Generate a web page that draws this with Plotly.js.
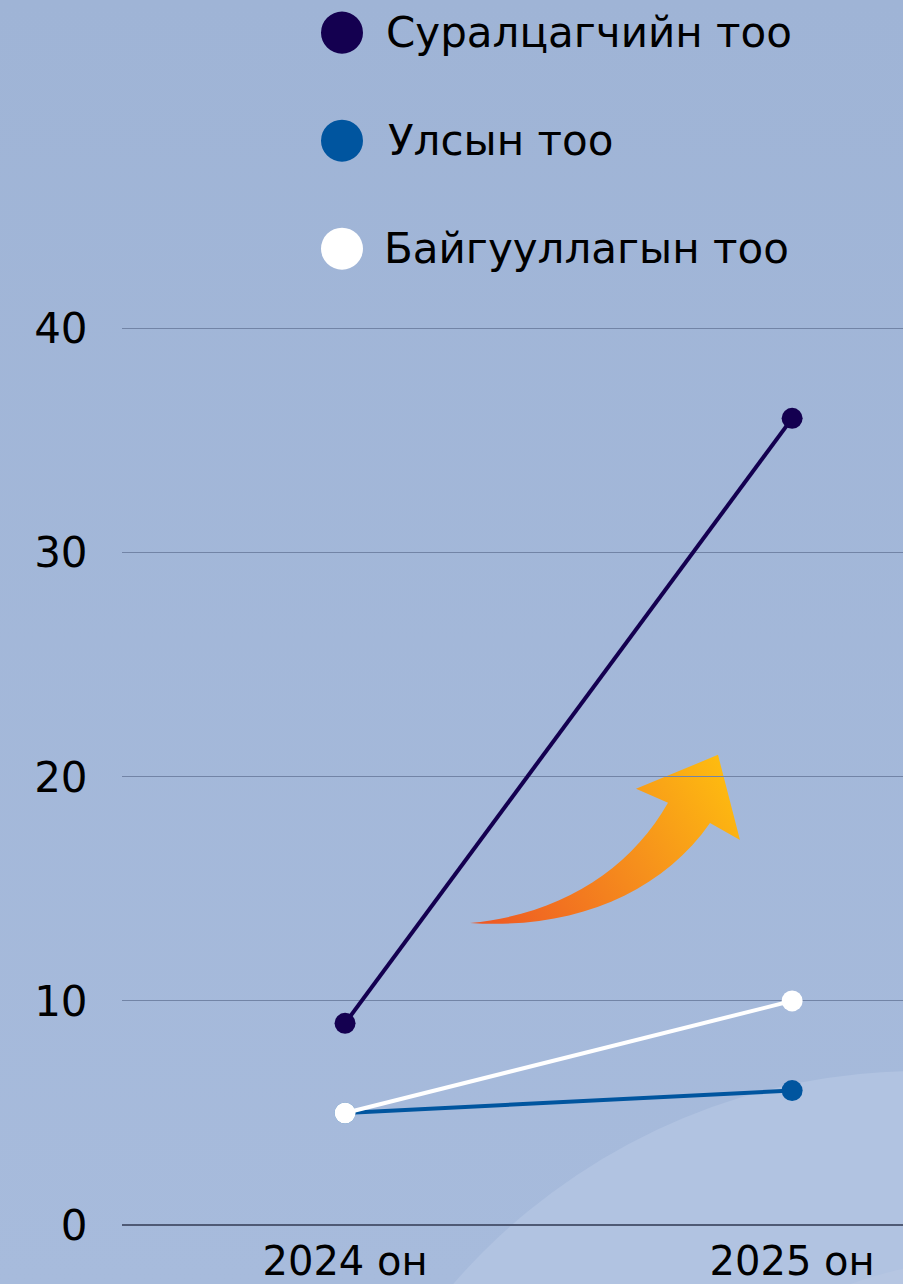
<!DOCTYPE html>
<html>
<head>
<meta charset="utf-8">
<script src="https://cdn.plot.ly/plotly-3.0.1.min.js"></script>
<style>html,body{margin:0;padding:0;background:#a1b5d7;}#chart{width:903px;height:1284px;}</style>
</head>
<body>
<div id="chart"></div>
<script>
// ---- data ----
var categories = ['2024 он', '2025 он'];
var seriesNames = ['Суралцагчийн тоо', 'Улсын тоо', 'Байгууллагын тоо'];
var students = [9, 36];
var countries = [5, 6];
var organizations = [5, 10];
var yTicks = [0, 10, 20, 30, 40];

var colors = ['#140050', '#00559f', '#ffffff'];
var seriesValues = [students, countries, organizations];

var W = 903, H = 1284;
var YMAX = 40.3;
var M = {l: 122, r: 0, t: 1225 - 22.4 * YMAX, b: 59};
var PW = W - M.l - M.r, PH = H - M.t - M.b;
var FONT = 'DejaVu Sans, sans-serif';

function px(x) { return (x - M.l) / PW; }
function py(y) { return 1 - (y - M.t) / PH; }

var traces = seriesValues.map(function (vals, i) {
  return {
    type: 'scatter', mode: 'lines+markers',
    x: categories, y: vals, name: seriesNames[i],
    line: {color: colors[i], width: 4},
    marker: {color: colors[i], size: 21},
    showlegend: false, hoverinfo: 'skip', cliponaxis: false
  };
});

var bgSvg = '<svg xmlns="http://www.w3.org/2000/svg" width="903" height="1284" viewBox="0 0 903 1284" preserveAspectRatio="none">' +
  '<defs><linearGradient id="bg" x1="0" y1="0" x2="0" y2="1"><stop offset="0" stop-color="#9fb4d6"/><stop offset="1" stop-color="#a7bbdc"/></linearGradient>' +
  '<linearGradient id="ar" x1="470" y1="925" x2="740" y2="755" gradientUnits="userSpaceOnUse"><stop offset="0" stop-color="#ee5524"/><stop offset="0.55" stop-color="#f6901c"/><stop offset="1" stop-color="#ffc20e"/></linearGradient></defs>' +
  '<rect x="0" y="0" width="903" height="1284" fill="url(#bg)"/>' +
  '<circle cx="920" cy="1689" r="618" fill="#b1c3e1"/>' +
  '<circle cx="1000" cy="1700" r="442" fill="#b6c6e2"/>' +
  '<path d="M470,923 C560,915 630,870 668,803 L636,789 L718,755 L740,840 L710,823 C660,895 570,930 470,923 Z" fill="url(#ar)"/>' +
  '</svg>';
var bgUri = 'data:image/svg+xml;charset=utf-8,' + encodeURIComponent(bgSvg);

var legendY = [33, 141, 249];
var legendTextX = [384, 386, 382];
var shapes = [], annotations = [];
seriesNames.forEach(function (n, i) {
  shapes.push({type: 'circle', xref: 'paper', yref: 'paper', layer: 'above',
    x0: px(321), x1: px(363), y0: py(legendY[i] + 21), y1: py(legendY[i] - 21),
    fillcolor: colors[i], line: {width: 0}});
  annotations.push({xref: 'paper', yref: 'paper', x: px(legendTextX[i]), y: py(legendY[i]),
    xanchor: 'left', yanchor: 'middle', showarrow: false, text: n,
    font: {family: FONT, size: 42, color: '#000000'}});
});

var layout = {
  width: W, height: H,
  margin: M,
  paper_bgcolor: 'rgba(0,0,0,0)', plot_bgcolor: 'rgba(0,0,0,0)',
  font: {family: FONT, color: '#000000'},
  showlegend: false,
  xaxis: {
    type: 'category', range: [-0.4989, 1.248], showgrid: false, zeroline: false, showline: false,
    ticks: 'outside', ticklen: 1, tickcolor: 'rgba(0,0,0,0)',
    tickfont: {family: FONT, size: 40, color: '#000000'}, fixedrange: true
  },
  yaxis: {
    range: [0, YMAX], tickvals: yTicks, ticktext: yTicks.map(String),
    showgrid: true, gridcolor: '#7284a6', gridwidth: 1,
    zeroline: true, zerolinecolor: '#4f5a75', zerolinewidth: 1.5, showline: false,
    ticks: 'outside', ticklen: 25, tickcolor: 'rgba(0,0,0,0)',
    tickfont: {family: FONT, size: 42, color: '#000000'}, fixedrange: true
  },
  images: [{source: bgUri, xref: 'paper', yref: 'paper', x: -M.l / PW, y: 1 + M.t / PH,
    sizex: W / PW, sizey: H / PH, xanchor: 'left', yanchor: 'top', sizing: 'stretch', layer: 'below'}],
  shapes: shapes,
  annotations: annotations
};

Plotly.newPlot('chart', traces, layout, {displayModeBar: false, staticPlot: true});
</script>
</body>
</html>
